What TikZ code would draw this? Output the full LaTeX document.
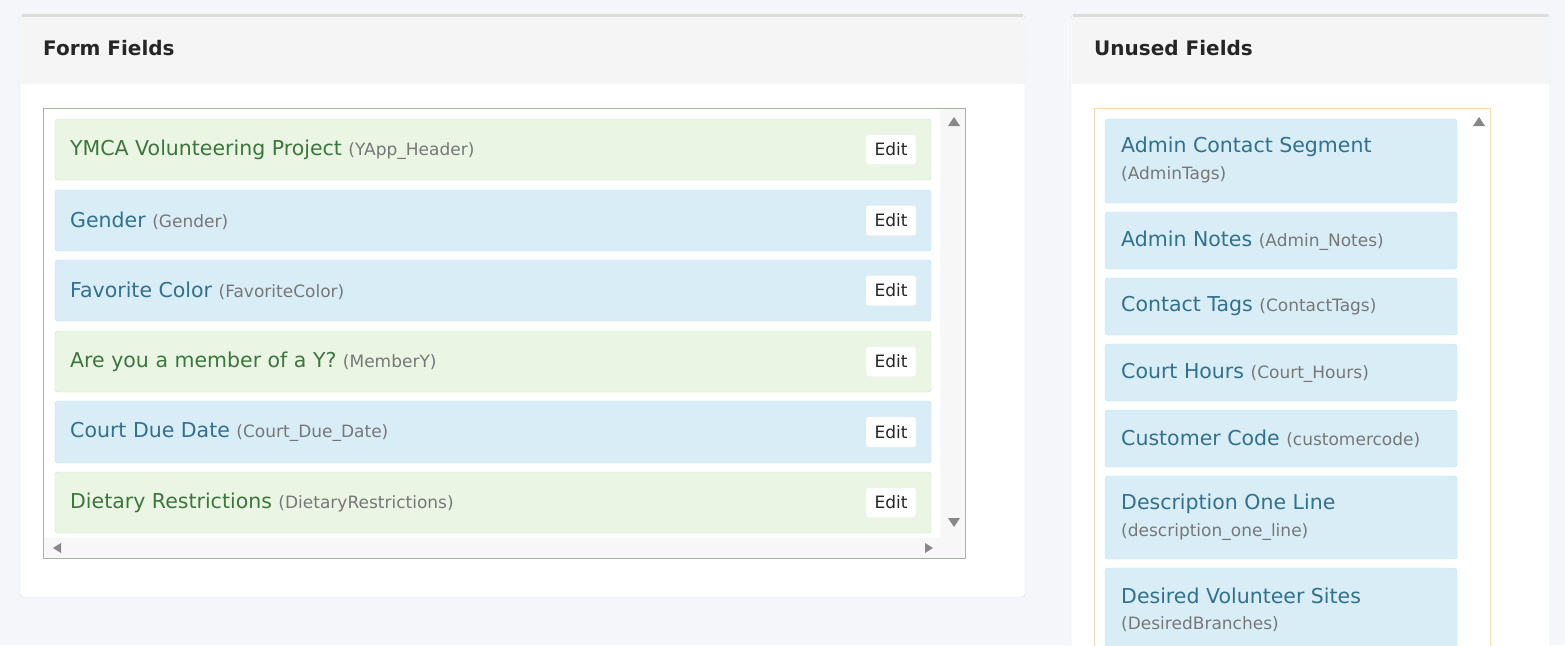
\documentclass[tikz,border=0pt]{standalone}
\usepackage{fontspec}
\setmainfont{DejaVu Sans}
\definecolor{pagebg}{HTML}{F4F6FA}
\definecolor{hdrbg}{HTML}{F5F5F5}
\definecolor{panelbd}{HTML}{DDDDDD}
\definecolor{gbg}{HTML}{EAF5E3}
\definecolor{gbd}{HTML}{CFE6C0}
\definecolor{gtx}{HTML}{3C763D}
\definecolor{bbg}{HTML}{D9EDF7}
\definecolor{bbd}{HTML}{BCE3F0}
\definecolor{btx}{HTML}{31708F}
\definecolor{subtx}{HTML}{777777}
\definecolor{arr}{HTML}{888888}
\definecolor{scrl}{HTML}{F7F7F7}
\begin{document}
\begin{tikzpicture}[x=1pt,y=-1pt,
  panel/.style={fill=white,draw=panelbd,rounded corners=3pt},
  hdr/.style={anchor=west,inner sep=0pt,font=\bfseries\fontsize{20}{24}\selectfont,text=black!85},
  gitem/.style={fill=gbg,draw=gbd,rounded corners=3pt},
  bitem/.style={fill=bbg,draw=bbd,rounded corners=3pt},
  lbl/.style={anchor=west,inner sep=0pt,font=\fontsize{20.5}{24}\selectfont},
  sub/.style={text=subtx,font=\fontsize{17}{20}\selectfont},
  editbtn/.style={fill=white,draw=white!92!black,rounded corners=2pt,minimum width=50pt,minimum height=30pt,inner sep=0pt,font=\fontsize{17}{20}\selectfont,text=black!85},
  tri/.style={fill=arr,draw=none}]
\useasboundingbox (0,0) rectangle (1565,645);
\fill[pagebg] (0,0) rectangle (1565,645);
% left panel
\draw[panel] (20,15) rectangle (1025,597);
\fill[hdrbg,rounded corners=3pt] (20.5,15.5) rectangle (1024.5,84);
\fill[hdrbg] (20.5,60) rectangle (1024.5,84);
\draw[panelbd,line width=2.5pt] (22,15.5) -- (1023,15.5);
\node[hdr] (h1) at (43,48) {Form Fields};
\draw[draw=gbd!70!black!80] (43,108) rectangle (965,558);
\fill[scrl] (940,109) rectangle (964.5,557.5);
\fill[scrl] (43.5,538) rectangle (964.5,557.5);
\fill[tri] (948,126)--(960,126)--(954,117)--cycle;
\fill[tri] (948,518)--(960,518)--(954,527)--cycle;
\fill[tri] (53,548)--(61,543)--(61,553)--cycle;
\fill[tri] (933,548)--(925,543)--(925,553)--cycle;
\foreach \n/\ya/\yb/\st/\tc/\main/\subt in {
  a/119/180/gitem/gtx/YMCA Volunteering Project/YApp\_Header,
  b/190/251/bitem/btx/Gender/Gender,
  c/260/321/bitem/btx/Favorite Color/FavoriteColor,
  d/331/392/gitem/gtx/Are you a member of a Y?/MemberY,
  e/401/463/bitem/btx/Court Due Date/Court\_Due\_Date,
  f/472/533/gitem/gtx/Dietary Restrictions/DietaryRestrictions}{
  \draw[\st] (55,\ya) rectangle (931,\yb);
  \node[lbl,text=\tc] (t\n) at (70,{(\ya+\yb)/2}) {\main\ {\fontsize{17}{20}\selectfont\color{subtx}(\subt)}};
  \node[editbtn] (e\n) at (891,{(\ya+\yb)/2}) {Edit};
}
% right panel
\draw[panel] (1071,15) rectangle (1550,660);
\fill[hdrbg,rounded corners=3pt] (1071.5,15.5) rectangle (1549.5,84);
\fill[hdrbg] (1071.5,60) rectangle (1549.5,84);
\draw[panelbd,line width=2.5pt] (1073,15.5) -- (1548,15.5);
\node[hdr] (h2) at (1094,48) {Unused Fields};
\draw[draw=orange!30] (1094,108) rectangle (1490,660);
\fill[tri] (1473,126)--(1485,126)--(1479,117)--cycle;
\foreach \n/\ya/\yb/\main/\subt in {
  b/212/269/Admin Notes/Admin\_Notes,
  c/278/335/Contact Tags/ContactTags,
  d/344/401/Court Hours/Court\_Hours,
  e/410/467/Customer Code/customercode}{
  \draw[bitem] (1105,\ya) rectangle (1457,\yb);
  \node[lbl,text=btx] (u\n) at (1121,{(\ya+\yb)/2}) {\main\ {\fontsize{17}{20}\selectfont\color{subtx}(\subt)}};
}
\foreach \n/\ya/\yb/\main/\subt in {
  a/119/203/Admin Contact Segment/AdminTags,
  f/476/559/Description One Line/description\_one\_line,
  g/568/670/Desired Volunteer Sites/DesiredBranches}{
  \draw[bitem] (1105,\ya) rectangle (1457,\yb);
  \node[lbl,text=btx] (u\n) at (1121,\ya+28) {\main};
  \node[lbl,sub] (s\n) at (1121,\ya+56) {(\subt)};
}
\end{tikzpicture}
\end{document}
